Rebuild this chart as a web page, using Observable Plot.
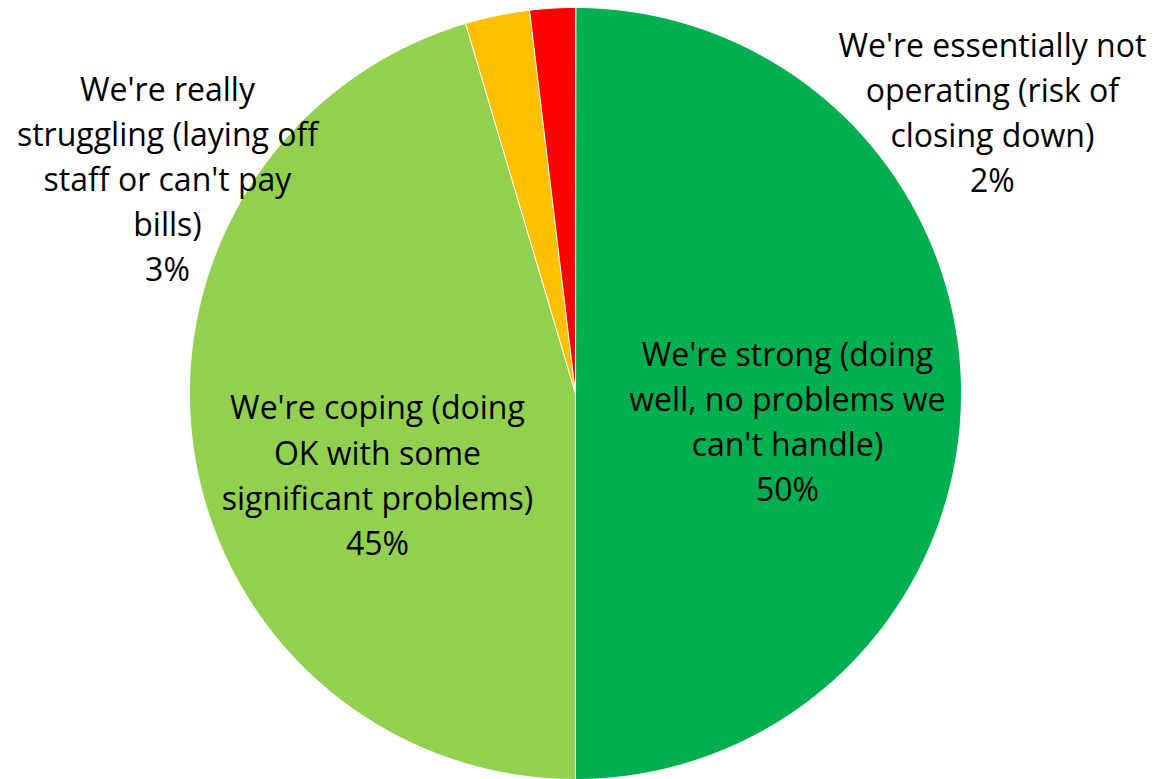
<!DOCTYPE html>
<html>
<head>
<meta charset="utf-8">
<script src="https://cdn.jsdelivr.net/npm/d3@7"></script>
<script src="https://cdn.jsdelivr.net/npm/@observablehq/plot@0.6"></script>
<style>
  html, body { margin: 0; padding: 0; background: #fff; }
  #chart svg { display: block; }
</style>
</head>
<body>
<div id="chart"></div>
<script>
// ---- data ----
const categories = [
  "We're strong (doing well, no problems we can't handle)",
  "We're coping (doing OK with some significant problems)",
  "We're really struggling (laying off staff or can't pay bills)",
  "We're essentially not operating (risk of closing down)"
];
const values = [50.0, 45.4, 2.7, 1.9];
const labelLines = [
  "We're strong (doing\nwell, no problems we\ncan't handle)",
  "We're coping (doing\nOK with some\nsignificant problems)",
  "We're really\nstruggling (laying off\nstaff or can't pay\nbills)",
  "We're essentially not\noperating (risk of\nclosing down)"
];
const colors = ["#00B050", "#92D050", "#FFC000", "#FF0000"];

// ---- layout (label anchors, in radius units relative to pie centre) ----
const labelAnchorX = [0.549, -0.513, -1.057, 1.080];
const labelAnchorY = [-0.066, -0.205, 0.562, 0.734];

const total = d3.sum(values);
const arcs = d3.pie().sort(null).value(d => d)(values);

// slice outlines (clockwise from 12 o'clock)
const slicePts = [];
arcs.forEach((a, i) => {
  slicePts.push({cat: categories[i], x: 0, y: 0});
  const n = Math.max(8, Math.ceil((a.endAngle - a.startAngle) / 0.004));
  for (let k = 0; k <= n; k++) {
    const t = a.startAngle + (a.endAngle - a.startAngle) * k / n;
    slicePts.push({cat: categories[i], x: Math.sin(t), y: Math.cos(t)});
  }
});

const labels = categories.map((c, i) => ({
  cat: c,
  x: labelAnchorX[i],
  y: labelAnchorY[i],
  text: labelLines[i] + "\n" + Math.round(values[i] / total * 100) + "%"
}));

const R = 386;
const plot = Plot.plot({
  width: 1155,
  height: 779,
  marginLeft: 575 - R,
  marginRight: 1155 - 575 - R,
  marginTop: 7,
  marginBottom: 779 - 7 - 2 * R,
  x: {domain: [-1, 1], axis: null},
  y: {domain: [-1, 1], axis: null},
  color: {domain: categories, range: colors},
  style: {fontFamily: "'Open Sans', 'Noto Sans', sans-serif", background: "#fff"},
  marks: [
    Plot.line(slicePts, {
      x: "x", y: "y", z: "cat", fill: "cat",
      stroke: "#fff", strokeWidth: 1, curve: "linear-closed"
    }),
    Plot.text(labels, {
      x: "x", y: "y", text: "text",
      fill: "#000", fontSize: 32, lineHeight: 1.41,
      textAnchor: "middle", lineAnchor: "middle"
    })
  ]
});
document.getElementById("chart").appendChild(plot);
</script>
</body>
</html>
